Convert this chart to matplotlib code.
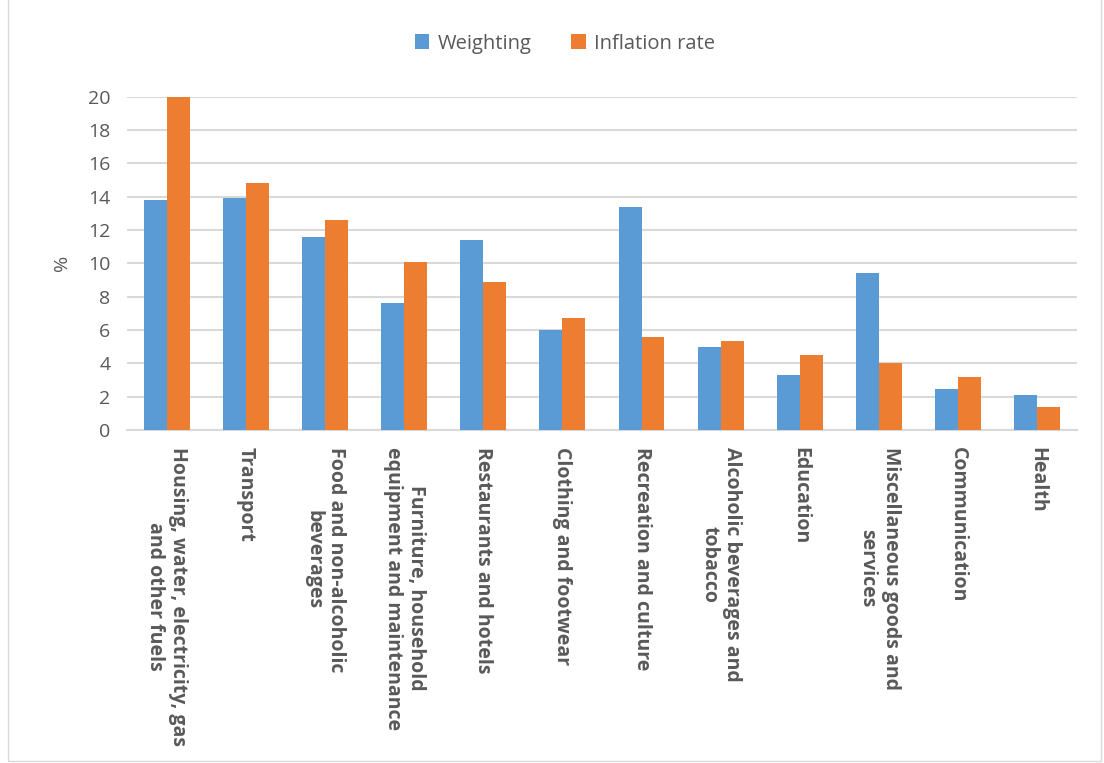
import matplotlib.pyplot as plt
import numpy as np
from matplotlib.patches import Rectangle

categories = [
    "Housing, water, electricity, gas\nand other fuels",
    "Transport",
    "Food and non-alcoholic\nbeverages",
    "Furniture, household\nequipment and maintenance",
    "Restaurants and hotels",
    "Clothing and footwear",
    "Recreation and culture",
    "Alcoholic beverages and\ntobacco",
    "Education",
    "Miscellaneous goods and\nservices",
    "Communication",
    "Health",
]
weighting = [13.8, 13.9, 11.6, 7.6, 11.4, 6.0, 13.4, 5.0, 3.3, 9.4, 2.45, 2.1]
inflation = [20.0, 14.8, 12.6, 10.1, 8.9, 6.7, 5.6, 5.35, 4.5, 4.0, 3.2, 1.4]

plt.rcParams['font.family'] = ['Open Sans', 'DejaVu Sans']
grey = "#595959"

fig = plt.figure(figsize=(11.04, 7.63), dpi=100)
ax = fig.add_axes([0.115, 0.4364, 0.8605, 0.4369])

x = np.arange(len(categories))
w = 0.29
ax.bar(x - w / 2, weighting, w, color="#5B9BD5", label="Weighting", zorder=3)
ax.bar(x + w / 2, inflation, w, color="#ED7D31", label="Inflation rate", zorder=3)

ax.set_xlim(-0.5, len(categories) - 0.5)
ax.set_ylim(0, 20)
ax.set_yticks(range(0, 21, 2))
ax.yaxis.grid(True, color="#D9D9D9", linewidth=1.5, zorder=0)
ax.set_axisbelow(True)
for s in ["top", "right", "left"]:
    ax.spines[s].set_visible(False)
ax.spines["bottom"].set_color("#D9D9D9")
ax.spines["bottom"].set_linewidth(1.5)
ax.tick_params(axis="both", length=0, colors=grey, labelsize=14)
ax.tick_params(axis="y", pad=12)

ax.set_xticks(x)
ax.set_xticklabels(categories, rotation=270, ha="center", va="top",
                   multialignment="center", fontsize=14, fontweight="bold",
                   color=grey)
ax.tick_params(axis="x", pad=12)

ax.set_ylabel("%", color=grey, fontsize=14, labelpad=12)

ax.legend(loc="lower center", bbox_to_anchor=(0.461, 1.075), ncol=2, frameon=False,
          fontsize=14.5, labelcolor=grey, handlelength=0.7, handleheight=0.7,
          columnspacing=2.0, handletextpad=0.4)

# light chart frame
fig.patches.append(Rectangle((0.007, 0.003), 0.99, 1.2, transform=fig.transFigure,
                             fill=False, edgecolor="#D9D9D9", linewidth=1))

fig.savefig("out.png", dpi=100)
